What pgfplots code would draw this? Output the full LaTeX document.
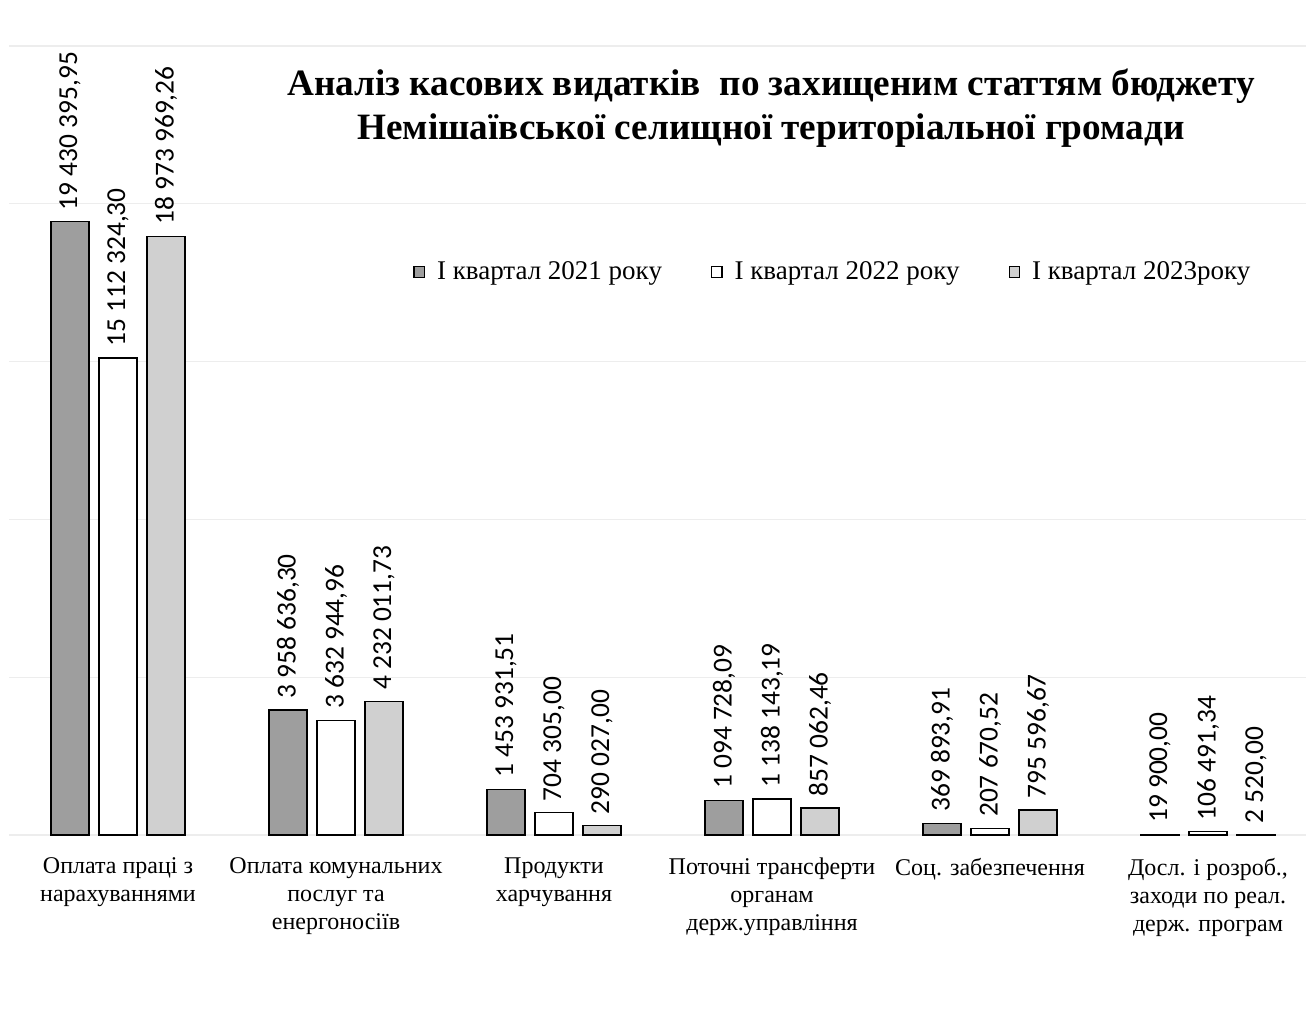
\documentclass[border=0pt]{standalone}
\usepackage{fontspec}
\setmainfont{Liberation Serif}
\newfontfamily\valfont{Carlito}
\usepackage{pgfplots}
\pgfplotsset{compat=1.18}

\definecolor{darkbar}{HTML}{9E9E9E}
\definecolor{lightbar}{HTML}{D0D0D0}
\definecolor{gridgray}{HTML}{EDEDED}

\begin{document}
\begin{tikzpicture}
\useasboundingbox (0,0) rectangle (655pt,515pt);

\begin{axis}[
    at={(4.5pt,97.5pt)}, anchor=south west,
    scale only axis,
    width=648.55pt, height=394.5pt,
    ybar=5pt, bar width=19pt,
    xmin=-0.5, xmax=5.45,
    ymin=0, ymax=25e6,
    enlargelimits=false,
    clip=false,
    scaled y ticks=false,
    axis line style={draw=none},
    tick style={draw=none},
    ytick={0,5e6,10e6,15e6,20e6,25e6},
    yticklabels={},
    ymajorgrids,
    major grid style={draw=gridgray, line width=0.6pt},
    xtick={0,1,2,3,4,5},
    xticklabels={
      {Оплата праці з\\нарахуваннями},
      {Оплата комунальних\\послуг та\\енергоносіїв},
      {Продукти\\харчування},
      {Поточні трансферти\\органам\\держ.управління},
      {Соц. забезпечення},
      {Досл. і розроб.,\\заходи по реал.\\держ. програм}},
    xticklabel style={align=center, font=\fontsize{12}{14}\selectfont, inner sep=0pt, yshift=-7pt},
    point meta=explicit symbolic,
    nodes near coords,
    every node near coord/.append style={rotate=90, anchor=west, inner sep=5.5pt,
      font=\valfont\fontsize{13.7}{14}\selectfont},
    legend columns=3,
    legend style={draw=none, fill=none, at={(0.3115,0.7136)}, anchor=west, inner sep=0pt,
      font=\fontsize{13.5}{13.5}\selectfont,
      /tikz/every even column/.append style={column sep=22.5pt}},
    legend image code/.code={\draw[#1] (0pt,-2.6pt) rectangle (5.2pt,2.6pt); \path (9.2pt,0pt);},
  ]
\addplot[fill=darkbar, draw=black, line width=0.6pt] coordinates {
  (0,19430395.95) [19 430 395,95]
  (1,3958636.30) [3 958 636,30]
  (2,1453931.51) [1 453 931,51]
  (3,1094728.09) [1 094 728,09]
  (4,369893.91) [369 893,91]
  (5,19900.00) [19 900,00]
};
\addplot[fill=white, draw=black, line width=0.6pt] coordinates {
  (0,15112324.30) [15 112 324,30]
  (1,3632944.96) [3 632 944,96]
  (2,704305.00) [704 305,00]
  (3,1138143.19) [1 138 143,19]
  (4,207670.52) [207 670,52]
  (5,106491.34) [106 491,34]
};
\addplot[fill=lightbar, draw=black, line width=0.6pt] coordinates {
  (0,18973969.26) [18 973 969,26]
  (1,4232011.73) [4 232 011,73]
  (2,290027.00) [290 027,00]
  (3,857062.46) [857 062,46]
  (4,795596.67) [795 596,67]
  (5,2520.00) [2 520,00]
};
\legend{І квартал 2021 року, І квартал 2022 року, І квартал 2023року}
\end{axis}

\node[anchor=base, font=\bfseries\fontsize{18.6}{22}\selectfont, inner sep=0pt]
  at (385.5pt,467pt) {Аналіз касових видатків\ \ по захищеним статтям бюджету};
\node[anchor=base, font=\bfseries\fontsize{18.6}{22}\selectfont, inner sep=0pt]
  at (385.5pt,445pt) {Немішаївської селищної територіальної громади};
\end{tikzpicture}
\end{document}
